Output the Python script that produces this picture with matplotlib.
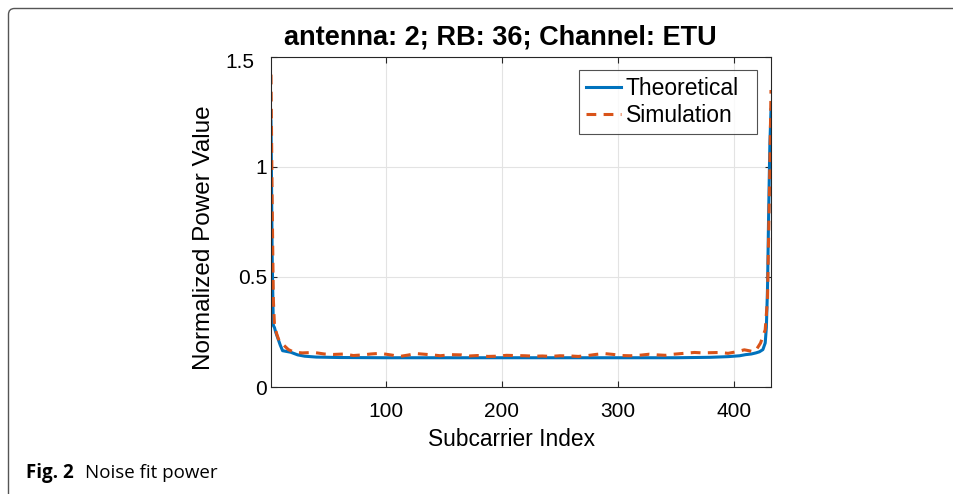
import matplotlib.pyplot as plt
from matplotlib.patches import FancyBboxPatch
from matplotlib.transforms import ScaledTranslation

# Theoretical noise power per subcarrier (36 RBs -> 432 subcarriers)
theory_idx = [1, 2, 3, 4, 5, 7, 9, 11, 14, 18, 24, 30, 40, 60, 100, 150, 200,
              250, 300, 350, 380, 395, 405, 410, 415, 419, 422, 425, 427, 428,
              429, 430, 431, 432]
theory_val = [1.21, 0.60, 0.28, 0.27, 0.25, 0.22, 0.19, 0.165, 0.162, 0.158,
              0.146, 0.140, 0.136, 0.134, 0.133, 0.133, 0.133, 0.133, 0.133,
              0.133, 0.135, 0.138, 0.142, 0.147, 0.150, 0.155, 0.160, 0.170,
              0.200, 0.270, 0.45, 0.80, 1.10, 1.26]

# Simulated noise power
sim_idx = [1, 2, 3, 4, 6, 8, 10, 13, 16, 21, 28, 38, 47, 55, 64, 72, 80, 87,
           95, 104, 112, 119, 126, 133, 140, 147, 156, 165, 172, 179, 188, 196,
           204, 211, 220, 228, 235, 242, 250, 259, 266, 274, 281, 288, 296, 303,
           311, 320, 327, 334, 341, 348, 357, 366, 373, 380, 388, 395, 402, 409,
           413, 417, 420, 423, 425, 427, 429, 430, 431, 432]
sim_val = [1.42, 0.85, 0.40, 0.28, 0.24, 0.21, 0.20, 0.185, 0.170, 0.158,
           0.155, 0.157, 0.150, 0.148, 0.150, 0.143, 0.146, 0.150, 0.153, 0.146,
           0.139, 0.145, 0.152, 0.149, 0.146, 0.142, 0.147, 0.146, 0.141, 0.143,
           0.139, 0.140, 0.144, 0.143, 0.142, 0.140, 0.141, 0.139, 0.142, 0.141,
           0.139, 0.143, 0.148, 0.152, 0.148, 0.143, 0.142, 0.145, 0.149, 0.146,
           0.144, 0.149, 0.153, 0.157, 0.155, 0.156, 0.157, 0.153, 0.160, 0.169,
           0.165, 0.160, 0.175, 0.200, 0.230, 0.260, 0.40, 0.70, 1.00, 1.35]

plt.rcParams['font.family'] = ['Liberation Sans', 'DejaVu Sans']

fig = plt.figure(figsize=(9.54, 4.94), dpi=100)

# page frame, open to the right and bottom
frame = FancyBboxPatch((0.085, -0.5), 10.0, 4.855 + 0.5,
                       boxstyle='round,pad=0,rounding_size=0.06',
                       transform=fig.dpi_scale_trans, fill=False,
                       edgecolor='#555555', linewidth=1.0)
fig.patches.append(frame)

ax = fig.add_axes([271 / 954, 107 / 494, 500 / 954, 330 / 494])
ax.plot(theory_idx, theory_val, color='#0072BD', linewidth=2.2,
        label='Theoretical')
ax.plot(sim_idx, sim_val, color='#D95319', linewidth=2.2,
        linestyle=(0, (3.2, 2.4)), label='Simulation')

ax.set_xlim(1, 432)
ax.set_ylim(0, 1.5)
ax.set_xticks([100, 200, 300, 400])
ax.set_yticks([0, 0.5, 1, 1.5])
ax.set_yticklabels(['0', '0.5', '1', '1.5'])
ax.grid(True, color='#e3e3e3', linewidth=0.8)
ax.set_axisbelow(True)
ax.tick_params(direction='in', top=True, right=True, length=4,
               color='#262626', labelsize=15)
ax.tick_params(axis='x', pad=11)
ax.tick_params(axis='y', pad=3)
for s in ax.spines.values():
    s.set_color('#262626')
    s.set_linewidth(0.8)

# top y label sits a little further left
top_lbl = ax.get_yticklabels()[-1]
top_lbl.set_transform(top_lbl.get_transform()
                      + ScaledTranslation(-0.12, -0.03, fig.dpi_scale_trans))

ax.set_xlabel('Subcarrier Index', fontsize=16.4, labelpad=4)
ax.xaxis.set_label_coords(0.481, -0.125)
ax.set_ylabel('Normalized Power Value', fontsize=17.5)
ax.yaxis.set_label_coords(-0.112, 0.452)
ax.set_title('antenna: 2; RB: 36; Channel: ETU', fontsize=19.5,
             fontweight='bold', x=0.458, pad=9)

# legend box stretched to a fixed width, entries left-aligned inside
leg = ax.legend(loc='upper left', mode='expand', fontsize=16.5, frameon=True,
                fancybox=False, edgecolor='#262626', handlelength=1.53,
                handletextpad=0.22, borderpad=0.3, labelspacing=0.2,
                borderaxespad=0, bbox_to_anchor=(0.616, 0.0, 0.356, 0.961))
leg.get_frame().set_linewidth(0.8)

fig.text(26 / 954, 1 - 473 / 494, 'Fig. 2', fontsize=13.5, fontweight='bold',
         family='Open Sans', va='center', ha='left')
fig.text(85 / 954, 1 - 473 / 494, 'Noise fit power', fontsize=13.5,
         family='Open Sans', va='center', ha='left')

fig.savefig('out.png', dpi=100)
